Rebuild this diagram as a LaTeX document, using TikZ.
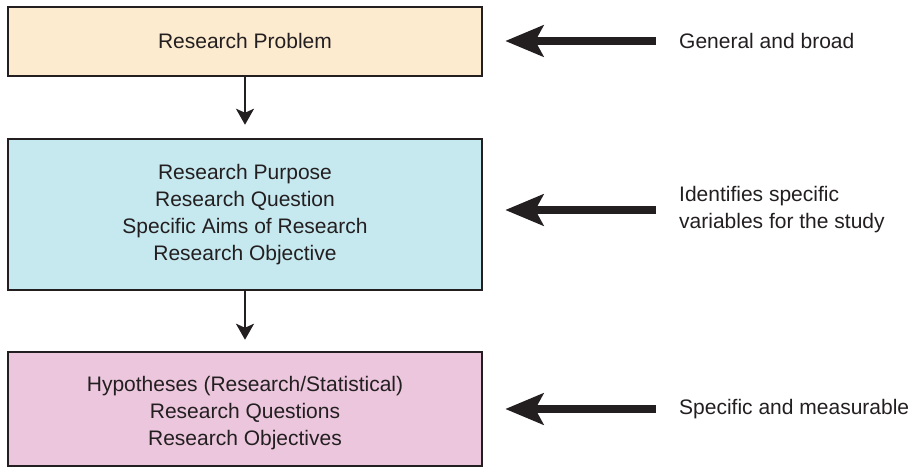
\documentclass[tikz,border=0pt]{standalone}
\usepackage{fontspec}
\setmainfont{Liberation Sans}
\usetikzlibrary{arrows.meta}
\definecolor{inkc}{HTML}{231F20}
\definecolor{peach}{HTML}{FDEBD0}
\definecolor{cyanbox}{HTML}{C6E8EF}
\definecolor{pinkbox}{HTML}{EBC6DD}
\begin{document}
\begin{tikzpicture}[x=1pt,y=-1pt,
  every node/.style={font=\fontsize{21}{27}\selectfont, text=inkc},
  flowbox/.style={draw=inkc, line width=2.5pt, minimum width=474pt, align=center, inner sep=0pt},
  boxtext/.style={align=center, inner sep=0pt},
  sidetext/.style={anchor=west, align=left, inner sep=0pt},
  downarrow/.style={draw=inkc, line width=2pt, -{Stealth[length=16pt, width=18pt, inset=4pt]}},
  bigarrow/.style={draw=inkc, line width=8pt, -{Stealth[length=38pt, width=31pt, inset=8pt]}}]
\useasboundingbox (0,0) rectangle (921,468);
\node[flowbox, fill=peach, minimum height=69pt] (b1) at (245,41.5) {};
\node[boxtext] (t1) at (245,40.5) {Research Problem};
\node[flowbox, fill=cyanbox, minimum height=151pt] (b2) at (245,214.5) {};
\node[boxtext] (t2) at (245,214.5)
  {Research Purpose\\Research Question\\Specific Aims of Research\\Research Objective};
\node[flowbox, fill=pinkbox, minimum height=114pt] (b3) at (245,409) {};
\node[boxtext] (t3) at (245,413)
  {Hypotheses (Research/Statistical)\\Research Questions\\Research Objectives};
\draw[downarrow, shorten >=13pt] (b1.south) -- (b2.north);
\draw[downarrow, shorten >=11pt] (b2.south) -- (b3.north);
\node[sidetext] (l1) at (679,41) {General and broad};
\node[sidetext] (l2) at (679,210) {Identifies specific\\variables for the study};
\node[sidetext] (l3) at (679,409) {Specific and measurable};
\draw[bigarrow, shorten <=23pt, shorten >=22pt] (l1.west) -- (l1.west -| b1.east);
\draw[bigarrow, shorten <=23pt, shorten >=22pt] (l2.west) -- (l2.west -| b2.east);
\draw[bigarrow, shorten <=23pt, shorten >=22pt] (l3.west) -- (l3.west -| b3.east);
\end{tikzpicture}
\end{document}
